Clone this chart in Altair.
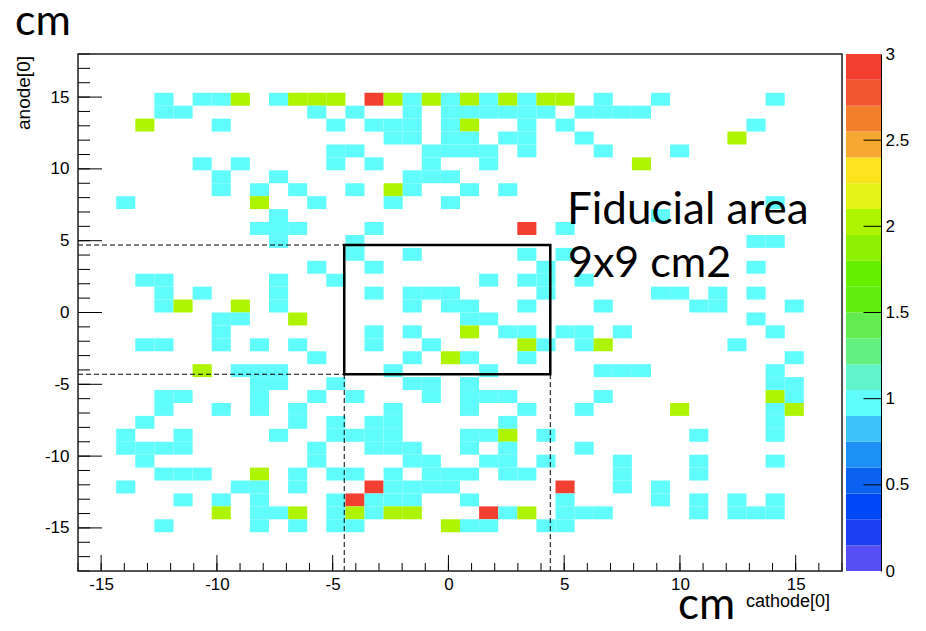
import altair as alt
import pandas as pd

# ---- histogram binning (ROOT TH2: 40 x 40 bins) ----
X_MIN, X_MAX, NX = -16.0, 17.0, 40
Y_MIN, Y_MAX, NY = -18.0, 18.0, 40

# entries per bin; first string = top row (anode = +18), characters = cathode bins from -16
counts_rows = [
    ".......... .......... .......... ..........",
    ".......... .......... .......... ..........",
    ".......... .......... .......... ..........",
    "....1.112. 1222.32121 212122.1.. 1.....1...",
    "....11.... ..1.1..1.1 11111.1111 ..........",
    "...2...1.. ...1.111.1 2..1.1.... .....1....",
    ".......... ......11.1 1.11..1... ....2.....",
    ".......... ...11...11 11.1...1.. .1........",
    "......1.1. ...1.1..1. .1.......2 ..........",
    ".......1.. 1......111 .......... ..........",
    ".......1.1 .1..1.21.. 1.1....... ..........",
    "..1......2 ..1...1..1 .......... ......1...",
    ".......... 1......... .......... 1.........",
    ".........1 11...1.... ...3.1.... ..........",
    ".......... 1...1..... .......... .....11...",
    ".......... ....1..1.. ...1.1.... ..........",
    ".......... ..1..1.... ....1..... .....1....",
    "...11..... 1..1...... .1.11.1... ..........",
    "....1.1... 1....1.111 ....1..... 11.1.1....",
    "....12..2. 1......1.1 1..1...1.. ..11...1..",
    ".......11. .2........ 11........ .....1....",
    ".......1.. .....1.1.. 2.11.11.1. ......1...",
    "...11..1.1 .1...1..1. ...21.12.. ....1.....",
    ".......... ..1....1.2 1..1...... .......1..",
    "......2.11 1.....1... .1.....111 ......1...",
    ".........1 1..1...11. 1......... ......11..",
    "....11...1 ..1.1...1. 111....1.. ......21..",
    "....1..1.1 .1....1... 1..1..1... .2....12..",
    "...1...... .1.1.11... ..1....... ......1...",
    "..1..1.... 1..1111... 112.1..... ..1...1...",
    "..1111.... ..1..111.. 1.1...1... ..........",
    "...1...... ..1....11. .11.1...1. ..1...1...",
    "....111..2 .1.11.1.11 1.11....1. ..1.......",
    "..1.....11 .1...31111 .....3..1. 1.........",
    ".....1.1.1 ...13111.. 1....1.... 1.1.1.1...",
    ".......2.1 12.12122.. .312.111.. ..1.111...",
    "....1....1 .1.11....2 11..11.... ..........",
    ".......... .......... .......... ..........",
    ".......... .......... .......... ..........",
    ".......... .......... .......... ..........",
]

# ROOT rainbow palette, 20 levels from 0 to 3 (bottom to top)
cb_levels = [0.0, 0.15, 0.3, 0.45, 0.6, 0.75, 0.9, 1.05, 1.2, 1.35, 1.5,
             1.65, 1.8, 1.95, 2.1, 2.25, 2.4, 2.55, 2.7, 2.85, 3.0]
palette = ["#5650f6", "#1a40f4", "#0048f6", "#0c62f0", "#1c90f4", "#3ec2fc",
           "#61fcfc", "#62f4cc", "#64f080", "#62ec50", "#62ee10", "#66f000",
           "#8cf000", "#aef400", "#e4f418", "#fde21e", "#f7a830", "#f4802e",
           "#f25530", "#f33f30"]
cb_tick_values = [0, 0.5, 1, 1.5, 2, 2.5, 3]

x_major = [-15, -10, -5, 0, 5, 10, 15]
x_minor = [-16, -15, -14, -13, -12, -11, -10, -9, -8, -7, -6, -5, -4, -3, -2, -1, 0,
           1, 2, 3, 4, 5, 6, 7, 8, 9, 10, 11, 12, 13, 14, 15, 16, 17]
y_major = [-15, -10, -5, 0, 5, 10, 15]
y_minor = [-18, -17, -16, -15, -14, -13, -12, -11, -10, -9, -8, -7, -6, -5, -4, -3, -2, -1, 0,
           1, 2, 3, 4, 5, 6, 7, 8, 9, 10, 11, 12, 13, 14, 15, 16, 17, 18]

# fiducial area box (cm)
box_x = [-4.5, 4.4]
box_y = [-4.3, 4.7]

# ---- build tables ----
dx = (X_MAX - X_MIN) / NX
dy = (Y_MAX - Y_MIN) / NY
cells = []
for r, line in enumerate(counts_rows):
    s = line.replace(" ", "")
    for c, ch in enumerate(s):
        if ch != ".":
            cells.append({"x0": X_MIN + c * dx, "x1": X_MIN + (c + 1) * dx,
                          "y1": Y_MAX - r * dy, "y0": Y_MAX - (r + 1) * dy,
                          "n": int(ch)})
cells_df = pd.DataFrame(cells)

W, H = 764, 517
FONT = "Liberation Sans"
BIG = "Lato"
LBL = 17

xs = alt.Scale(domain=[X_MIN, X_MAX], nice=False, zero=False)
ys = alt.Scale(domain=[Y_MIN, Y_MAX], nice=False, zero=False)
ax_x = alt.Axis(values=x_major, title=None, ticks=False, domain=False, grid=False,
                labelFont=FONT, labelFontSize=LBL, labelColor="black", labelPadding=5,
                labelExpr="'' + datum.value")
ax_y = alt.Axis(values=y_major, title=None, ticks=False, domain=False, grid=False,
                labelFont=FONT, labelFontSize=LBL, labelColor="black", labelPadding=9,
                labelExpr="'' + datum.value")

heat = alt.Chart(cells_df).mark_rect().encode(
    x=alt.X("x0:Q", scale=xs, axis=ax_x),
    x2="x1:Q",
    y=alt.Y("y0:Q", scale=ys, axis=ax_y),
    y2="y1:Q",
    color=alt.Color("n:Q", scale=alt.Scale(type="quantize", domain=[0, 3], range=palette, nice=False),
                    legend=None),
)

def xticks(vals, length):
    return alt.Chart(pd.DataFrame({"v": vals})).mark_rule(color="black", strokeWidth=1).encode(
        x=alt.X("v:Q", scale=xs, axis=ax_x), y=alt.value(H), y2=alt.value(H - length))

def yticks(vals, length):
    return alt.Chart(pd.DataFrame({"v": vals})).mark_rule(color="black", strokeWidth=1).encode(
        y=alt.Y("v:Q", scale=ys, axis=ax_y), x=alt.value(0), x2=alt.value(length))

box = alt.Chart(pd.DataFrame({"x0": [box_x[0]], "x1": [box_x[1]], "y0": [box_y[0]], "y1": [box_y[1]]})
                ).mark_rect(fillOpacity=0, stroke="black", strokeWidth=2.5).encode(
    x=alt.X("x0:Q", scale=xs, axis=ax_x), x2="x1:Q",
    y=alt.Y("y0:Q", scale=ys, axis=ax_y), y2="y1:Q")

hdash = alt.Chart(pd.DataFrame({"y": box_y, "xa": [X_MIN, X_MIN], "xb": [box_x[0], box_x[0]]})
                  ).mark_rule(color="black", strokeWidth=1, strokeDash=[5, 3]).encode(
    x=alt.X("xa:Q", scale=xs, axis=ax_x), x2="xb:Q", y=alt.Y("y:Q", scale=ys, axis=ax_y))

vdash = alt.Chart(pd.DataFrame({"x": box_x, "ya": [Y_MIN, Y_MIN], "yb": [box_y[0], box_y[0]]})
                  ).mark_rule(color="black", strokeWidth=1, strokeDash=[5, 3]).encode(
    y=alt.Y("ya:Q", scale=ys, axis=ax_y), y2="yb:Q", x=alt.X("x:Q", scale=xs, axis=ax_x))

frame = alt.Chart(pd.DataFrame({"f": [0]})).mark_rect(fillOpacity=0, stroke="#222222", strokeWidth=1.5).encode(
    x=alt.value(0), x2=alt.value(W), y=alt.value(0), y2=alt.value(H))

def label(text, x, y, font, size, align="left", angle=0, baseline="alphabetic"):
    return alt.Chart(pd.DataFrame({"t": [text]})).mark_text(
        font=font, fontSize=size, align=align, angle=angle, baseline=baseline, color="black"
    ).encode(text="t:N", x=alt.value(x), y=alt.value(y))

texts = [
    label("cm", -63, -19, BIG, 43),
    label("cm", 600, 565, BIG, 44),
    label("Fiducial area", 489, 170, BIG, 44),
    label("9x9 cm2", 490, 223, BIG, 43),
    label("anode[0]", -63, 2, FONT, 19, align="right", angle=270, baseline="top"),
    label("cathode[0]", 752, 553, FONT, 18, align="right"),
]

main = alt.layer(heat, xticks(x_minor, 8), xticks(x_major, 16), yticks(y_minor, 12), yticks(y_major, 24),
                 hdash, vdash, box, frame, *texts)

cb_df = pd.DataFrame({"lo": cb_levels[:-1], "hi": cb_levels[1:], "c": palette})
cbs = alt.Scale(domain=[0, 3], nice=False, zero=False)
CB_X0, CB_X1 = 768, 803
ax_cb = alt.Axis(orient="right", offset=CB_X1 - W, values=cb_tick_values,
                 title=None, ticks=False, grid=False, domain=True,
                 domainColor="black", domainWidth=1,
                 labelFont=FONT, labelFontSize=LBL, labelColor="black",
                 labelPadding=4, labelExpr="'' + datum.value")
cb = alt.Chart(cb_df).mark_rect().encode(
    x=alt.value(CB_X0), x2=alt.value(CB_X1),
    y=alt.Y("lo:Q", scale=cbs, axis=ax_cb),
    y2="hi:Q",
    color=alt.Color("c:N", scale=None),
)
cb_ticks = alt.Chart(pd.DataFrame({"v": cb_tick_values[1:-1]})).mark_rule(color="black").encode(
    y=alt.Y("v:Q", scale=cbs, axis=ax_cb), x=alt.value((CB_X0 + CB_X1) / 2), x2=alt.value(CB_X1))
colorbar = alt.layer(cb, cb_ticks)

chart = alt.layer(main, colorbar).resolve_scale(y="independent", color="independent").properties(
    width=W, height=H,
    autosize=alt.AutoSizeParams(type="none"),
    padding={"left": 70, "top": 46, "right": 76, "bottom": 52},
).configure_view(stroke=None).configure(background="white")

chart.save("out.html", embed_options={"renderer": "svg", "actions": False})
